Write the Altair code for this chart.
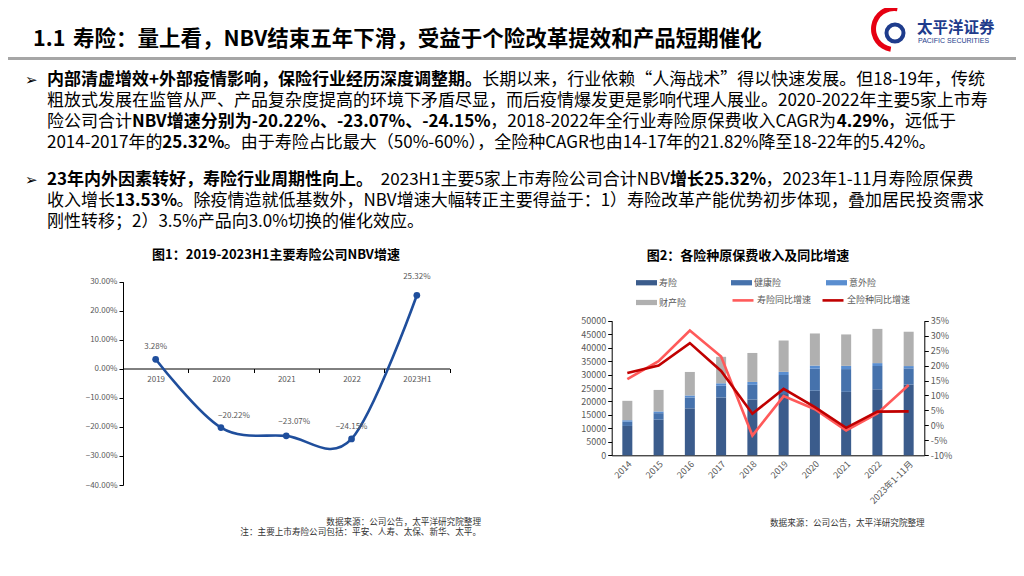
import altair as alt
import pandas as pd

W, H = 1008, 552
FONT = "Noto Sans CJK SC"


def px(x):
    return x - 8


def py(y):
    return y - 8


# ---------------- text content ----------------
title_num = "1.1"
title_text = "寿险：量上看，NBV结束五年下滑，受益于个险改革提效和产品短期催化"

para1 = [
    [("内部清虚增效+外部疫情影响，保险行业经历深度调整期。", True),
     ("长期以来，行业依赖“人海战术”得以快速发展。但18-19年，传统", False)],
    [("粗放式发展在监管从严、产品复杂度提高的环境下矛盾尽显，而后疫情爆发更是影响代理人展业。2020-2022年主要5家上市寿", False)],
    [("险公司合计", False), ("NBV增速分别为-20.22%、-23.07%、-24.15%", True),
     ("，2018-2022年全行业寿险原保费收入CAGR为", False), ("4.29%", True), ("，远低于", False)],
    [("2014-2017年的", False), ("25.32%", True),
     ("。由于寿险占比最大（50%-60%），全险种CAGR也由14-17年的21.82%降至18-22年的5.42%。", False)],
]
para2 = [
    [("23年内外因素转好，寿险行业周期性向上。", True), (" 2023H1主要5家上市寿险公司合计NBV", False),
     ("增长25.32%", True), ("，2023年1-11月寿险原保费", False)],
    [("收入增长", False), ("13.53%", True),
     ("。除疫情造就低基数外，NBV增速大幅转正主要得益于：1）寿险改革产能优势初步体现，叠加居民投资需求", False)],
    [("刚性转移；2）3.5%产品向3.0%切换的催化效应。", False)],
]

chart1_title = "图1：2019-2023H1主要寿险公司NBV增速"
chart2_title = "图2：各险种原保费收入及同比增速"
note_source = "数据来源：公司公告，太平洋研究院整理"
note_companies = "注：主要上市寿险公司包括：平安、人寿、太保、新华、太平。"

# ---------------- chart data ----------------
nbv_years = ["2019", "2020", "2021", "2022", "2023H1"]
nbv_growth = [3.28, -20.22, -23.07, -24.15, 25.32]

prem_years = ["2014", "2015", "2016", "2017", "2018", "2019", "2020", "2021", "2022", "2023年1-11月"]
life = [10902, 13242, 17442, 21456, 20723, 22754, 23982, 23572, 24519, 26300]
health = [1587, 2410, 4043, 4389, 5448, 7066, 8173, 8447, 8653, 6000]
accident = [541, 636, 750, 901, 1076, 1175, 1174, 1210, 1073, 850]
prop = [7203, 7995, 8725, 9835, 10770, 11649, 11929, 11671, 12712, 12750]
life_yoy = [15.5, 21.5, 31.7, 23.0, -3.4, 9.8, 5.4, -1.7, 4.0, 13.5]
total_yoy = [17.5, 20.0, 27.5, 18.2, 3.9, 12.2, 6.1, -0.8, 4.6, 4.7]

bar_types = ["寿险", "健康险", "意外险", "财产险"]
bar_colors = ["#3B5C8C", "#4672AC", "#5A8ED0", "#B0B0B0"]
line_types = ["寿险同比增速", "全险种同比增速"]
line_colors = ["#FF5A5A", "#C00000"]

nbv_df = pd.DataFrame({"year": nbv_years, "g": nbv_growth})

bar_rows = []
for i, yr in enumerate(prem_years):
    for k, (name, arr) in enumerate(zip(bar_types, [life, health, accident, prop])):
        bar_rows.append({"year": yr, "type": name, "value": arr[i], "ord": k})
bar_df = pd.DataFrame(bar_rows)

line_rows = []
for name, arr in zip(line_types, [life_yoy, total_yoy]):
    for yr, v in zip(prem_years, arr):
        line_rows.append({"year": yr, "series": name, "v": v})
line_df = pd.DataFrame(line_rows)

# ---------------- helpers ----------------
LATIN_W = {'%': 0.86, '.': 0.27, '-': 0.34, '+': 0.56, ' ': 0.22, 'N': 0.72, 'B': 0.64,
           'V': 0.6, 'C': 0.64, 'A': 0.62, 'G': 0.7, 'R': 0.64, 'H': 0.72}


def text_w(s, size, bold=False):
    f = 1.08 if bold else 1.0
    w = 0.0
    for ch in s:
        if ord(ch) >= 0x2E80 or ch in "“”":
            w += 1.0
        elif ch.isdigit():
            w += 0.555 * f
        else:
            w += LATIN_W.get(ch, 0.55) * f
    return w * size


def text_layer(txt, x, y, size, bold=False, color="#000000", align="left", font=FONT):
    return alt.Chart(pd.DataFrame({"t": [txt]})).mark_text(
        align=align, baseline="middle", fontSize=size,
        fontWeight="bold" if bold else "normal", color=color, font=font
    ).encode(text="t:N", x=alt.value(px(x)), y=alt.value(py(y)))


def line_layers(segs, x0, y, size=17):
    out = []
    x = x0
    for txt, bold in segs:
        lead = len(txt) - len(txt.lstrip(" "))
        x += lead * 0.22 * size * 2
        t = txt.strip(" ")
        out.append(text_layer(t, x, y, size, bold))
        x += text_w(t, size, bold)
    return out


layers = []

# header rule and title
layers.append(alt.Chart(pd.DataFrame({"a": [0]})).mark_rule(color="#A6A6A6", strokeWidth=3).encode(
    x=alt.value(0), x2=alt.value(W), y=alt.value(py(58.5))))
layers.append(text_layer(title_num, 33, 40, 21.5, bold=True))
layers.append(text_layer(title_text, 73, 40, 21.5, bold=True))

# logo
layers.append(alt.Chart(pd.DataFrame({"a": [0]})).mark_arc(
    theta=3.3, theta2=6.45, radius=23, radius2=18, color="#E60012").encode(
    x=alt.value(px(894)), y=alt.value(py(29))))
layers.append(alt.Chart(pd.DataFrame({"a": [0]})).mark_arc(
    theta=0, theta2=6.2832, radius=10.5, radius2=6.5, color="#1E3C8C").encode(
    x=alt.value(px(895)), y=alt.value(py(33))))
layers.append(text_layer("太平洋证券", 917, 28, 15.5, bold=True, color="#1E3C8C"))
layers.append(text_layer("PACIFIC SECURITIES", 918, 41, 7, color="#1E3C8C", font="Liberation Sans"))

# paragraphs
for yy in (80, 180):
    layers.append(text_layer("➢", 25, yy, 15, font="DejaVu Sans"))
for i, segs in enumerate(para1):
    layers += line_layers(segs, 47, 80 + i * 21)
for i, segs in enumerate(para2):
    layers += line_layers(segs, 47, 180 + i * 21)

# chart titles and notes
layers.append(text_layer(chart1_title, 276, 255, 13, bold=True, align="center"))
layers.append(text_layer(chart2_title, 748, 256, 13, bold=True, align="center"))
layers.append(text_layer(note_source, 481, 521.5, 8.6, color="#333333", align="right"))
layers.append(text_layer(note_companies, 481, 532, 8.6, color="#333333", align="right"))
layers.append(text_layer(note_source, 770, 522.5, 8.6, color="#333333"))

# ---------------- chart 1: NBV growth ----------------
L_X = alt.Scale(type="band", domain=nbv_years, range=[px(123), px(449.5)], paddingInner=0, paddingOuter=0)
L_Y = alt.Scale(domain=[-40, 30], range=[py(485), py(281.7)], nice=False, zero=False)

L_XAXIS = alt.Axis(orient="bottom", offset=py(368.5) - H, title=None, labelAngle=0, labelFontSize=8,
                   labelColor="#595959", labelPadding=3, tickBand="extent", tickSize=4, tickColor="#000000",
                   domainColor="#000000", grid=False, labelFont=FONT)
L_YAXIS = alt.Axis(orient="left", offset=-px(123), title=None, values=list(range(-40, 31, 10)),
                   labelExpr="format(datum.value,'.2f')+'%'", labelFontSize=8, labelColor="#595959",
                   tickSize=4, tickColor="#000000", domainColor="#000000", grid=False, labelPadding=2,
                   labelFont=FONT)

nbv_line = alt.Chart(nbv_df).mark_line(interpolate="cardinal", color="#1F4E9C", strokeWidth=2.6).encode(
    x=alt.X("year:N", scale=L_X, axis=L_XAXIS),
    y=alt.Y("g:Q", scale=L_Y, axis=L_YAXIS))
nbv_pts = alt.Chart(nbv_df).mark_point(filled=True, size=45, color="#1F4E9C", opacity=1).encode(
    x=alt.X("year:N", scale=L_X, axis=None),
    y=alt.Y("g:Q", scale=L_Y, axis=None))
layers += [nbv_line, nbv_pts]


def nbv_label(years, dx, dy):
    return alt.Chart(nbv_df).transform_filter(
        alt.FieldOneOfPredicate(field="year", oneOf=years)
    ).transform_calculate(lbl="format(datum.g,'.2f')+'%'").mark_text(
        fontSize=8, color="#595959", dx=dx, dy=dy, font=FONT
    ).encode(x=alt.X("year:N", scale=L_X, axis=None),
             y=alt.Y("g:Q", scale=L_Y, axis=None), text="lbl:N")


layers += [nbv_label(["2019", "2022"], 0, -12), nbv_label(["2020"], 13, -12),
           nbv_label(["2021"], 8, -14), nbv_label(["2023H1"], 0, -18)]

# ---------------- chart 2: premiums ----------------
R_X = alt.Scale(type="band", domain=prem_years, range=[px(611.7), px(924.3)], paddingInner=0, paddingOuter=0)
R_Y1 = alt.Scale(domain=[0, 50000], range=[py(455.3), py(320.7)], nice=False)
R_Y2 = alt.Scale(domain=[-10, 35], range=[py(455.3), py(320.7)], nice=False, zero=False)

R_XAXIS = alt.Axis(orient="bottom", offset=py(455.3) - H, title=None, labelAngle=-45, labelFontSize=9,
                   labelColor="#595959", ticks=False, tickSize=0, labelPadding=4, domainColor="#000000",
                   grid=False, labelFont=FONT)
R_Y1AXIS = alt.Axis(orient="left", offset=-px(611.7), title=None, values=list(range(0, 50001, 5000)),
                    format="d", labelFontSize=9, labelColor="#595959", tickSize=4, tickColor="#000000",
                    domainColor="#000000", grid=False, labelPadding=2, labelFont=FONT)
R_Y2AXIS = alt.Axis(orient="right", offset=px(924.3) - W, title=None, values=list(range(-10, 36, 5)),
                    labelExpr="datum.value+'%'", labelFontSize=9, labelColor="#595959", tickSize=4,
                    tickColor="#000000", domainColor="#000000", grid=False, labelPadding=2, labelFont=FONT)

bars = alt.Chart(bar_df).mark_bar(size=10).encode(
    x=alt.X("year:N", scale=R_X, axis=R_XAXIS),
    y=alt.Y("value:Q", scale=R_Y1, axis=R_Y1AXIS, stack="zero"),
    color=alt.Color("type:N", scale=alt.Scale(domain=bar_types, range=bar_colors),
                    legend=alt.Legend(orient="none", legendX=px(636), legendY=py(272), title=None,
                                      columns=3, direction="horizontal", gridAlign="all",
                                      symbolType="M-1,-0.25H1V0.25H-1Z", symbolSize=441,
                                      symbolStrokeWidth=0, labelOffset=2, columnPadding=44,
                                      rowPadding=4, labelFontSize=9, labelColor="#595959",
                                      labelFont=FONT, padding=0)),
    order=alt.Order("ord:Q", sort="ascending"))

yoy = alt.Chart(line_df).mark_line(strokeWidth=2.6).encode(
    x=alt.X("year:N", scale=R_X, axis=None),
    y=alt.Y("v:Q", scale=R_Y2, axis=R_Y2AXIS),
    color=alt.Color("series:N", scale=alt.Scale(domain=line_types, range=line_colors),
                    legend=alt.Legend(orient="none", legendX=px(731), legendY=py(288), title=None,
                                      columns=2, direction="horizontal",
                                      symbolType="stroke", symbolSize=441, symbolStrokeWidth=2.6,
                                      labelOffset=2, columnPadding=5, labelFontSize=9,
                                      labelColor="#595959", labelFont=FONT, padding=0)),
    detail="series:N")
layers += [bars, yoy]

chart = alt.layer(*layers).resolve_scale(
    x="independent", y="independent", color="independent"
).properties(
    width=W, height=H, autosize=alt.AutoSizeParams(type="none"), padding=0, background="#FFFFFF"
).configure(font=FONT).configure_view(stroke=None)

chart.save("out.html", embed_options={"renderer": "svg", "actions": False})
